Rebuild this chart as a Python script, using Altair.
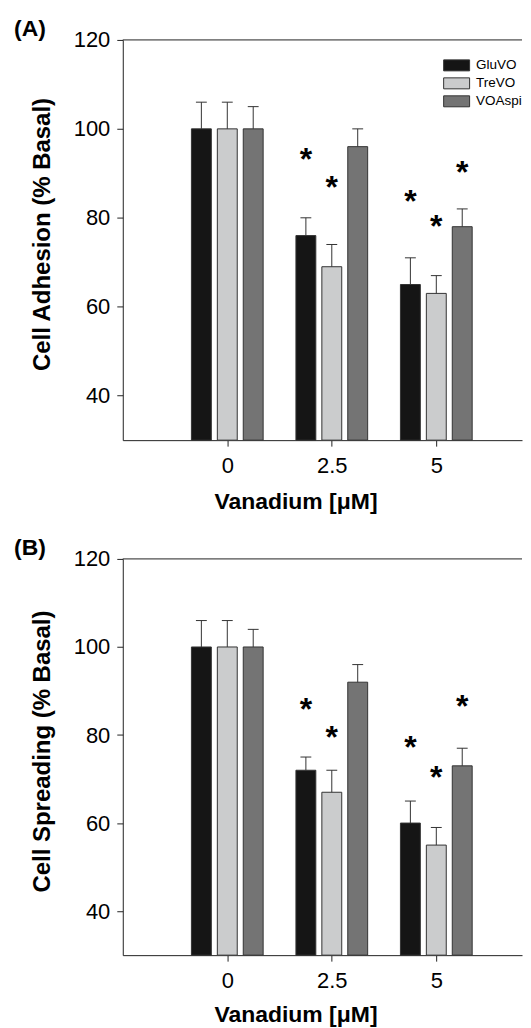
import altair as alt
import pandas as pd

# ---- data ----
concentrations = [0, 2.5, 5]
series = ["GluVO", "TreVO", "VOAspi"]
colors = ["#151515", "#cbcccd", "#747474"]

adh_mean = {"GluVO": [100, 76, 65], "TreVO": [100, 69, 63], "VOAspi": [100, 96, 78]}
adh_err = {"GluVO": [6, 4, 6], "TreVO": [6, 5, 4], "VOAspi": [5, 4, 4]}
adh_star = {"GluVO": [None, 94.2, 84.8], "TreVO": [None, 88.0, 79.2], "VOAspi": [None, None, 91.4]}

spr_mean = {"GluVO": [100, 72, 60], "TreVO": [100, 67, 55], "VOAspi": [100, 92, 73]}
spr_err = {"GluVO": [6, 3, 5], "TreVO": [6, 5, 4], "VOAspi": [4, 4, 4]}
spr_star = {"GluVO": [None, 87.0, 78.4], "TreVO": [None, 80.6, 71.4], "VOAspi": [None, None, 87.5]}

x_ticks = [0, 2.5, 5]
y_ticks = [40, 60, 80, 100, 120]
x_domain = [-2.5, 7.05]
y_domain = [30, 120]

FONT = "Liberation Sans"
GROUP_STEP = 0.62   # offset between bars in a group (x units)
HALF_BAR = 0.238
HALF_CAP = 0.13
PLOT_W = 400


def build_frame(mean, err, star):
    rows = []
    for i, s in enumerate(series):
        for j, c in enumerate(concentrations):
            pos = c + (i - 1) * GROUP_STEP
            rows.append({
                "series": s, "conc": c, "pos": pos,
                "x0": pos - HALF_BAR, "x1": pos + HALF_BAR,
                "c0": pos - HALF_CAP, "c1": pos + HALF_CAP,
                "mean": mean[s][j], "top": mean[s][j] + err[s][j],
                "star": star[s][j],
            })
    return pd.DataFrame(rows)


def panel(mean, err, star, ytitle, label, height, title_x, title_y):
    df = build_frame(mean, err, star)
    xscale = alt.Scale(domain=x_domain, nice=False, zero=False)
    yscale = alt.Scale(domain=y_domain, nice=False, zero=False)
    xaxis = alt.Axis(values=x_ticks, labelExpr="'' + datum.value", title="Vanadium [\u03bcM]",
                     grid=False, tickSize=6, labelPadding=9,
                     titleX=title_x, titleY=title_y, titleBaseline="top")
    yaxis = alt.Axis(values=y_ticks, title=ytitle, grid=False,
                     tickSize=6, labelPadding=7, titleX=-80, titleY=height / 2 - 6,
                     titleBaseline="middle", titleAngle=270, titleFontSize=24)
    base = alt.Chart(df)

    bars = base.mark_bar(stroke="#333333", strokeWidth=1).encode(
        x=alt.X("x0:Q", scale=xscale, axis=xaxis),
        x2="x1:Q",
        y=alt.Y("mean:Q", scale=yscale, axis=yaxis),
        y2=alt.datum(y_domain[0]),
        color=alt.Color(
            "series:N",
            scale=alt.Scale(domain=series, range=colors),
            legend=alt.Legend(
                title=None, orient="none", legendX=324, legendY=15,
                symbolType="M-1.3,-0.55H1.3V0.55H-1.3Z", symbolSize=400,
                symbolStrokeColor="#333333", symbolStrokeWidth=1,
                labelFontSize=13.5, labelFont=FONT, labelOffset=9,
                rowPadding=0, padding=0, labelColor="#000000",
            ),
        ),
    )
    errs = base.mark_rule(color="#333333", strokeWidth=1).encode(
        x=alt.X("pos:Q", scale=xscale, axis=xaxis),
        y=alt.Y("mean:Q", scale=yscale, axis=yaxis),
        y2="top:Q",
    )
    caps = base.mark_rule(color="#333333", strokeWidth=1).encode(
        x=alt.X("c0:Q", scale=xscale, axis=xaxis),
        x2="c1:Q",
        y=alt.Y("top:Q", scale=yscale, axis=yaxis),
    )
    stars = base.transform_filter("isValid(datum.star)").mark_text(
        text="*", fontSize=32, fontWeight="bold", font=FONT,
        baseline="alphabetic", dy=15.5, color="#000000",
    ).encode(
        x=alt.X("pos:Q", scale=xscale, axis=xaxis),
        y=alt.Y("star:Q", scale=yscale, axis=yaxis),
    )
    top_line = alt.Chart(pd.DataFrame({"v": [y_domain[1]]})).mark_rule(
        color="#222222", strokeWidth=1
    ).encode(y=alt.Y("v:Q", scale=yscale, axis=yaxis))
    return alt.layer(bars, errs, caps, stars, top_line).properties(
        width=PLOT_W, height=height,
        title=alt.Title(label, anchor="start", frame="group", dx=-109, dy=14,
                        fontSize=23, fontWeight="bold", font=FONT, offset=2,
                        color="#000000"),
    )


a = panel(adh_mean, adh_err, adh_star, "Cell Adhesion (% Basal)", "(A)", 401, 173, 50)
b = panel(spr_mean, spr_err, spr_star, "Cell Spreading (% Basal)", "(B)", 397, 173, 48)

chart = alt.vconcat(a, b, spacing=24).properties(
    padding={"left": 6, "top": 9, "right": 0, "bottom": 0}
).configure_view(
    strokeWidth=0
).configure_axis(
    labelFont=FONT, labelFontSize=22, labelColor="#000000",
    titleFont=FONT, titleFontSize=23, titleFontWeight="bold", titleColor="#000000",
    tickColor="#222222", tickWidth=1, domainColor="#222222", domainWidth=1,
)

chart.save("out.html", embed_options={"renderer": "svg", "actions": False})
